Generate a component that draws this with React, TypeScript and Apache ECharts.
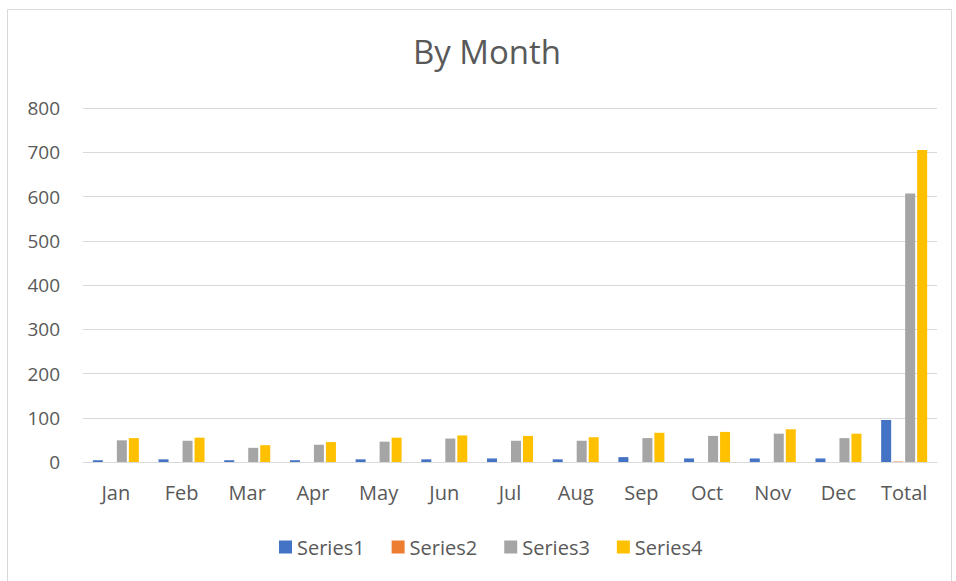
import React, { useEffect, useRef } from "react";
import * as echarts from "echarts";

const categories = ["Jan", "Feb", "Mar", "Apr", "May", "Jun", "Jul", "Aug", "Sep", "Oct", "Nov", "Dec", "Total"];
const series1 = [4, 6, 4, 4, 6, 6, 8, 6, 11, 8, 8, 8, 95];
const series2 = [0, 0, 0, 0, 0, 0, 0, 0, 0, 0, 0, 0, 1];
const series3 = [49, 48, 32, 39, 46, 53, 48, 48, 54, 59, 64, 54, 607];
const series4 = [54, 55, 38, 45, 55, 60, 59, 56, 66, 68, 74, 64, 705];
const seriesNames = ["Series1", "Series2", "Series3", "Series4"];
const colors = ["#4472C4", "#ED7D31", "#A5A5A5", "#FFC000"];

const FONT = "'Open Sans', sans-serif";

export default function App() {
  const ref = useRef<HTMLDivElement>(null);
  useEffect(() => {
    document.body.style.margin = "0";
    const chart = echarts.init(ref.current!, null, { renderer: "svg" });
    const data = [series1, series2, series3, series4];
    chart.setOption({
      animation: false,
      backgroundColor: "#ffffff",
      color: colors,
      title: {
        text: "By Month",
        left: 482,
        top: 30,
        textAlign: "center",
        textStyle: { fontFamily: FONT, fontSize: 33, fontWeight: "normal", color: "#595959" },
      },
      graphic: [
        {
          type: "rect",
          shape: { x: 7.5, y: 9.5, width: 944, height: 580 },
          style: { fill: "none", stroke: "#d9d9d9", lineWidth: 1 },
          silent: true,
        },
      ],
      legend: {
        data: seriesNames,
        left: 274,
        top: 532,
        itemWidth: 13,
        itemHeight: 13,
        itemGap: 27,
        icon: "rect",
        textStyle: { fontFamily: FONT, fontSize: 20, color: "#595959", padding: [0, 0, 0, 0] },
      },
      grid: { left: 83, right: 19, top: 108, bottom: 119, containLabel: false },
      xAxis: {
        type: "category",
        data: categories,
        axisLine: { show: true, lineStyle: { color: "#d9d9d9", width: 1 } },
        axisTick: { show: false },
        axisLabel: { fontFamily: FONT, fontSize: 20, color: "#595959", margin: 20 },
      },
      yAxis: {
        type: "value",
        min: 0,
        max: 800,
        interval: 100,
        axisLine: { show: false },
        axisTick: { show: false },
        splitLine: { lineStyle: { color: "#d9d9d9", width: 1 } },
        axisLabel: { fontFamily: FONT, fontSize: 19, color: "#595959", margin: 23 },
      },
      series: seriesNames.map((name, i) => ({
        name,
        type: "bar",
        data: data[i],
        barWidth: 10,
        barGap: "20%",
        itemStyle: { color: colors[i] },
      })),
    });
    return () => chart.dispose();
  }, []);
  return <div ref={ref} style={{ width: 956, height: 581 }} />;
}
